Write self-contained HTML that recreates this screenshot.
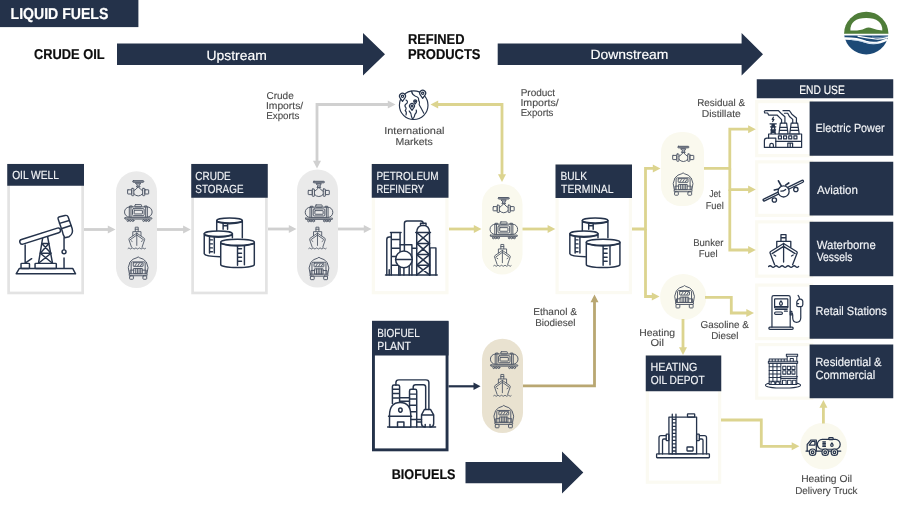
<!DOCTYPE html>
<html lang="en">
<head>
<meta charset="utf-8">
<title>Liquid Fuels</title>
<style>
html,body{margin:0;padding:0;background:#fff;}
body{width:900px;height:506px;overflow:hidden;}
svg{display:block;filter:blur(0.45px);}
text{font-family:"Liberation Sans",sans-serif;text-rendering:geometricPrecision;}
.ic{fill:none;stroke:#25334b;stroke-width:1.35;stroke-linecap:round;stroke-linejoin:round;}
.is{fill:none;stroke:#525a69;stroke-width:1;stroke-linecap:round;stroke-linejoin:round;}
</style>
</head>
<body>
<svg width="900" height="506" viewBox="0 0 900 506">
<rect width="900" height="506" fill="#ffffff"/>
<rect x="0" y="0" width="138.4" height="27.1" fill="#24324a"/>
<text x="10.59" y="18.5" font-size="15.8" fill="#fff" stroke="#fff" stroke-width="0.2" font-weight="700" textLength="97.77" lengthAdjust="spacingAndGlyphs">LIQUID FUELS</text>
<text x="33.95" y="59.1" font-size="14.3" fill="#0d0d0d" stroke="#0d0d0d" stroke-width="0.2" font-weight="700" textLength="70.61" lengthAdjust="spacingAndGlyphs">CRUDE OIL</text>
<polygon points="117,43.6 363,43.6 363,33.1 385,54.3 363,75.5 363,65.0 117,65.0" fill="#24324a"/>
<text x="206.47" y="59.9" font-size="13.5" fill="#fff" stroke="#fff" stroke-width="0.16" textLength="60.3" lengthAdjust="spacingAndGlyphs">Upstream</text>
<text x="407.89" y="44.0" font-size="14.3" fill="#0d0d0d" stroke="#0d0d0d" stroke-width="0.2" font-weight="700" textLength="56.63" lengthAdjust="spacingAndGlyphs">REFINED</text>
<text x="407.88" y="59.1" font-size="14.3" fill="#0d0d0d" stroke="#0d0d0d" stroke-width="0.2" font-weight="700" textLength="72.62" lengthAdjust="spacingAndGlyphs">PRODUCTS</text>
<polygon points="497.7,43.6 741.6,43.6 741.6,33.1 763,54.3 741.6,75.5 741.6,65.0 497.7,65.0" fill="#24324a"/>
<text x="590.48" y="59.2" font-size="13.5" fill="#fff" stroke="#fff" stroke-width="0.16" textLength="77.95" lengthAdjust="spacingAndGlyphs">Downstream</text>
<text x="391.73" y="479.3" font-size="14" fill="#0d0d0d" stroke="#0d0d0d" stroke-width="0.2" font-weight="700" textLength="63.78" lengthAdjust="spacingAndGlyphs">BIOFUELS</text>
<polygon points="465.5,462.0 562,462.0 562,451.6 583.3,472.6 562,493.6 562,483.2 465.5,483.2" fill="#24324a"/>
<rect x="8.6" y="165" width="74.05" height="127.95" fill="#fff" stroke="#e3e3e3" stroke-width="2.7"/>
<rect x="7.25" y="164" width="76.75" height="21.75" fill="#24324a"/>
<text x="12.14" y="179.3" font-size="11.8" fill="#f2f4f7" stroke="#f2f4f7" stroke-width="0.16" textLength="46.81" lengthAdjust="spacingAndGlyphs">OIL WELL</text>
<rect x="192.6" y="165" width="73.8" height="127.95" fill="#fff" stroke="#e3e3e3" stroke-width="2.7"/>
<rect x="191.25" y="164" width="76.5" height="33.75" fill="#24324a"/>
<text x="195.29" y="180.2" font-size="11.8" fill="#f2f4f7" stroke="#f2f4f7" stroke-width="0.16" textLength="35.46" lengthAdjust="spacingAndGlyphs">CRUDE</text>
<text x="195.29" y="192.9" font-size="11.8" fill="#f2f4f7" stroke="#f2f4f7" stroke-width="0.16" textLength="48.26" lengthAdjust="spacingAndGlyphs">STORAGE</text>
<rect x="373.35" y="165" width="73.55" height="127.7" fill="#fff" stroke="#fbfaf2" stroke-width="3.2"/>
<rect x="371.75" y="164" width="76.75" height="33.75" fill="#24324a"/>
<text x="376.38" y="180.2" font-size="11.8" fill="#f2f4f7" stroke="#f2f4f7" stroke-width="0.16" textLength="62.23" lengthAdjust="spacingAndGlyphs">PETROLEUM</text>
<text x="376.39" y="192.9" font-size="11.8" fill="#f2f4f7" stroke="#f2f4f7" stroke-width="0.16" textLength="47.76" lengthAdjust="spacingAndGlyphs">REFINERY</text>
<rect x="557.1" y="165.5" width="73.3" height="127.1" fill="#fff" stroke="#fbfaf2" stroke-width="3.2"/>
<rect x="555.5" y="164.5" width="76.5" height="33.5" fill="#24324a"/>
<text x="560.53" y="180.3" font-size="11.8" fill="#f2f4f7" stroke="#f2f4f7" stroke-width="0.16" textLength="26.47" lengthAdjust="spacingAndGlyphs">BULK</text>
<text x="561.05" y="193.0" font-size="11.8" fill="#f2f4f7" stroke="#f2f4f7" stroke-width="0.16" textLength="52.5" lengthAdjust="spacingAndGlyphs">TERMINAL</text>
<rect x="373.45" y="322.25" width="73.6" height="127.6" fill="#fff" stroke="#24324a" stroke-width="2.9"/>
<rect x="372" y="321.25" width="76.5" height="34.25" fill="#24324a"/>
<text x="377.23" y="337.45" font-size="11.8" fill="#f2f4f7" stroke="#f2f4f7" stroke-width="0.16" textLength="42.52" lengthAdjust="spacingAndGlyphs">BIOFUEL</text>
<text x="377.23" y="350.15" font-size="11.8" fill="#f2f4f7" stroke="#f2f4f7" stroke-width="0.16" textLength="33.72" lengthAdjust="spacingAndGlyphs">PLANT</text>
<rect x="647.35" y="356.5" width="72.3" height="125.7" fill="#fff" stroke="#fbfaf2" stroke-width="3.2"/>
<rect x="645.75" y="355.5" width="75.5" height="35.75" fill="#24324a"/>
<text x="650.53" y="371.1" font-size="11.8" fill="#f2f4f7" stroke="#f2f4f7" stroke-width="0.16" textLength="46.79" lengthAdjust="spacingAndGlyphs">HEATING</text>
<text x="650.8" y="383.8" font-size="11.8" fill="#f2f4f7" stroke="#f2f4f7" stroke-width="0.16" textLength="53.81" lengthAdjust="spacingAndGlyphs">OIL DEPOT</text>
<rect x="116" y="171.25" width="41" height="116.75" fill="#eaeaea" rx="20.5"/>
<rect x="297" y="169.5" width="41" height="118" fill="#eaeaea" rx="20.5"/>
<rect x="482" y="184" width="40.5" height="90.5" fill="#faf9ee" rx="20.25"/>
<rect x="661" y="132" width="43" height="74" fill="#faf9ee" rx="20"/>
<rect x="482" y="338.75" width="41" height="94.25" fill="#e9e2d0" rx="20.5"/>
<circle cx="683.2" cy="297" r="23.1" fill="#faf9ee"/>
<circle cx="823.6" cy="446.2" r="23.4" fill="#faf9ee"/>
<rect x="756.75" y="79.25" width="136.5" height="19" fill="#24324a"/>
<text x="799.23" y="93.8" font-size="12.2" fill="#fff" stroke="#fff" stroke-width="0.16" textLength="45.52" lengthAdjust="spacingAndGlyphs">END USE</text>
<rect x="756.7" y="101.6" width="55" height="54.05" fill="#fff" stroke="#fbfaf2" stroke-width="3.2"/>
<rect x="809.6" y="101.5" width="83.65" height="54.25" fill="#24324a"/>
<text x="815.59" y="132.2" font-size="12.0" fill="#f2f4f7" stroke="#f2f4f7" stroke-width="0.16" textLength="68.91" lengthAdjust="spacingAndGlyphs">Electric Power</text>
<rect x="756.7" y="161.85" width="55" height="53.55" fill="#fff" stroke="#fbfaf2" stroke-width="3.2"/>
<rect x="809.6" y="161.75" width="83.65" height="53.75" fill="#24324a"/>
<text x="817.0" y="193.5" font-size="12.0" fill="#f2f4f7" stroke="#f2f4f7" stroke-width="0.16" textLength="40.81" lengthAdjust="spacingAndGlyphs">Aviation</text>
<rect x="756.7" y="221.85" width="55" height="54.3" fill="#fff" stroke="#fbfaf2" stroke-width="3.2"/>
<rect x="809.6" y="221.75" width="83.65" height="54.5" fill="#24324a"/>
<text x="816.8" y="248.6" font-size="12.0" fill="#f2f4f7" stroke="#f2f4f7" stroke-width="0.16" textLength="58.9" lengthAdjust="spacingAndGlyphs">Waterborne</text>
<text x="816.8" y="261.2" font-size="12.0" fill="#f2f4f7" stroke="#f2f4f7" stroke-width="0.16" textLength="35.6" lengthAdjust="spacingAndGlyphs">Vessels</text>
<rect x="756.7" y="285.1" width="55" height="53.55" fill="#fff" stroke="#fbfaf2" stroke-width="3.2"/>
<rect x="809.6" y="285" width="83.65" height="53.75" fill="#24324a"/>
<text x="815.58" y="314.5" font-size="12.0" fill="#f2f4f7" stroke="#f2f4f7" stroke-width="0.16" textLength="71.12" lengthAdjust="spacingAndGlyphs">Retail Stations</text>
<rect x="756.7" y="344.6" width="55" height="53.55" fill="#fff" stroke="#fbfaf2" stroke-width="3.2"/>
<rect x="809.6" y="344.5" width="83.65" height="53.75" fill="#24324a"/>
<text x="815.24" y="366.0" font-size="12.0" fill="#f2f4f7" stroke="#f2f4f7" stroke-width="0.16" textLength="66.41" lengthAdjust="spacingAndGlyphs">Residential &amp;</text>
<text x="815.49" y="379.2" font-size="12.0" fill="#f2f4f7" stroke="#f2f4f7" stroke-width="0.16" textLength="59.77" lengthAdjust="spacingAndGlyphs">Commercial</text>
<path d="M84 229.5 L108.95 229.5" fill="none" stroke="#d0d0d0" stroke-width="2.8" stroke-linejoin="miter"/>
<polygon points="115.5,229.5 107.8,233.5 107.8,225.5" fill="#d0d0d0"/>
<path d="M157 229.5 L184.26 229.5" fill="none" stroke="#d0d0d0" stroke-width="2.8" stroke-linejoin="miter"/>
<polygon points="190.8,229.5 183.1,233.5 183.1,225.5" fill="#d0d0d0"/>
<path d="M268 229 L289.95 229.0" fill="none" stroke="#d0d0d0" stroke-width="2.8" stroke-linejoin="miter"/>
<polygon points="296.5,229 288.8,233.0 288.8,225.0" fill="#d0d0d0"/>
<path d="M338 229 L364.95 229.0" fill="none" stroke="#d0d0d0" stroke-width="2.8" stroke-linejoin="miter"/>
<polygon points="371.5,229 363.8,233.0 363.8,225.0" fill="#d0d0d0"/>
<path d="M388.95 104.5 L317 104.5 L317.0 161.86" fill="none" stroke="#d0d0d0" stroke-width="2.8" stroke-linejoin="miter"/>
<polygon points="317,168.4 313.0,160.7 321.0,160.7" fill="#d0d0d0"/>
<polygon points="395.5,104.5 387.8,108.5 387.8,100.5" fill="#d0d0d0"/>
<path d="M449 229 L474.95 229.0" fill="none" stroke="#dcd48f" stroke-width="2.8" stroke-linejoin="miter"/>
<polygon points="481.5,229 473.8,233.0 473.8,225.0" fill="#dcd48f"/>
<path d="M522.5 229 L548.75 229.0" fill="none" stroke="#dcd48f" stroke-width="2.8" stroke-linejoin="miter"/>
<polygon points="555.3,229 547.6,233.0 547.6,225.0" fill="#dcd48f"/>
<path d="M437.05 104.5 L502 104.5 L502.0 175.46" fill="none" stroke="#dcd48f" stroke-width="2.8" stroke-linejoin="miter"/>
<polygon points="502,182 498.0,174.3 506.0,174.3" fill="#dcd48f"/>
<polygon points="430.5,104.5 438.2,100.5 438.2,108.5" fill="#dcd48f"/>
<path d="M632 229 L645.5 229 L645.5 168.4 L653.95 168.4" fill="none" stroke="#dcd48f" stroke-width="2.8" stroke-linejoin="miter"/>
<polygon points="660.5,168.4 652.8,172.4 652.8,164.4" fill="#dcd48f"/>
<path d="M645.5 229 L645.5 296.5 L652.95 296.5" fill="none" stroke="#dcd48f" stroke-width="2.8" stroke-linejoin="miter"/>
<polygon points="659.5,296.5 651.8,300.5 651.8,292.5" fill="#dcd48f"/>
<path d="M704 168.4 L729.8 168.4 L729.8 129.2 L749.25 129.2" fill="none" stroke="#dcd48f" stroke-width="2.8" stroke-linejoin="miter"/>
<polygon points="755.8,129.2 748.1,133.2 748.1,125.2" fill="#dcd48f"/>
<path d="M729.8 168.4 L729.8 189.6 L749.25 189.6" fill="none" stroke="#dcd48f" stroke-width="2.8" stroke-linejoin="miter"/>
<polygon points="755.8,189.6 748.1,193.6 748.1,185.6" fill="#dcd48f"/>
<path d="M729.8 189.5 L729.8 250 L749.25 250.0" fill="none" stroke="#dcd48f" stroke-width="2.8" stroke-linejoin="miter"/>
<polygon points="755.8,250 748.1,254.0 748.1,246.0" fill="#dcd48f"/>
<path d="M705 297.3 L731.3 297.3 L731.3 313 L747.45 313.0" fill="none" stroke="#dcd48f" stroke-width="2.8" stroke-linejoin="miter"/>
<polygon points="754,313 746.3,317.0 746.3,309.0" fill="#dcd48f"/>
<path d="M683 319 L683.0 348.45" fill="none" stroke="#dcd48f" stroke-width="2.8" stroke-linejoin="miter"/>
<polygon points="683,355 679.0,347.3 687.0,347.3" fill="#dcd48f"/>
<path d="M721 420 L761.3 420 L761.3 446.3 L792.85 446.3" fill="none" stroke="#dcd48f" stroke-width="2.8" stroke-linejoin="miter"/>
<polygon points="799.4,446.3 791.7,450.3 791.7,442.3" fill="#dcd48f"/>
<path d="M823.4 423.5 L823.4 406.55" fill="none" stroke="#dcd48f" stroke-width="2.8" stroke-linejoin="miter"/>
<polygon points="823.4,400 827.4,407.7 819.4,407.7" fill="#dcd48f"/>
<path d="M523 385.8 L594.5 385.8 L594.5 301.05" fill="none" stroke="#b9a772" stroke-width="2.8" stroke-linejoin="miter"/>
<polygon points="594.5,294.5 598.5,302.2 590.5,302.2" fill="#b9a772"/>
<path d="M448.5 386.3 L474.55 386.3" fill="none" stroke="#24324a" stroke-width="2.2" stroke-linejoin="miter"/>
<polygon points="480.5,386.3 473.5,390.05 473.5,382.55" fill="#24324a"/>
<text x="266.44" y="99.3" font-size="10.0" fill="#4a4a4a" stroke="#4a4a4a" stroke-width="0.12" textLength="27.27" lengthAdjust="spacingAndGlyphs">Crude</text>
<text x="265.93" y="109.2" font-size="10.0" fill="#4a4a4a" stroke="#4a4a4a" stroke-width="0.12" textLength="37.27" lengthAdjust="spacingAndGlyphs">Imports/</text>
<text x="266.18" y="119.1" font-size="10.0" fill="#4a4a4a" stroke="#4a4a4a" stroke-width="0.12" textLength="33.28" lengthAdjust="spacingAndGlyphs">Exports</text>
<text x="384.22" y="134.0" font-size="10.0" fill="#4a4a4a" stroke="#4a4a4a" stroke-width="0.12" textLength="60.24" lengthAdjust="spacingAndGlyphs">International</text>
<text x="395.43" y="145.1" font-size="10.0" fill="#4a4a4a" stroke="#4a4a4a" stroke-width="0.12" textLength="37.33" lengthAdjust="spacingAndGlyphs">Markets</text>
<text x="520.69" y="95.9" font-size="10.0" fill="#4a4a4a" stroke="#4a4a4a" stroke-width="0.12" textLength="34.46" lengthAdjust="spacingAndGlyphs">Product</text>
<text x="520.43" y="106.3" font-size="10.0" fill="#4a4a4a" stroke="#4a4a4a" stroke-width="0.12" textLength="38.27" lengthAdjust="spacingAndGlyphs">Imports/</text>
<text x="520.68" y="116.4" font-size="10.0" fill="#4a4a4a" stroke="#4a4a4a" stroke-width="0.12" textLength="32.73" lengthAdjust="spacingAndGlyphs">Exports</text>
<text x="697.24" y="105.9" font-size="10.0" fill="#4a4a4a" stroke="#4a4a4a" stroke-width="0.12" textLength="47.76" lengthAdjust="spacingAndGlyphs">Residual &amp;</text>
<text x="701.73" y="116.9" font-size="10.0" fill="#4a4a4a" stroke="#4a4a4a" stroke-width="0.12" textLength="39.03" lengthAdjust="spacingAndGlyphs">Distillate</text>
<text x="709.2" y="197.3" font-size="10.0" fill="#4a4a4a" stroke="#4a4a4a" stroke-width="0.12" textLength="11.51" lengthAdjust="spacingAndGlyphs">Jet</text>
<text x="705.65" y="208.5" font-size="10.0" fill="#4a4a4a" stroke="#4a4a4a" stroke-width="0.12" textLength="18.08" lengthAdjust="spacingAndGlyphs">Fuel</text>
<text x="693.18" y="246.0" font-size="10.0" fill="#4a4a4a" stroke="#4a4a4a" stroke-width="0.12" textLength="30.27" lengthAdjust="spacingAndGlyphs">Bunker</text>
<text x="698.69" y="257.3" font-size="10.0" fill="#4a4a4a" stroke="#4a4a4a" stroke-width="0.12" textLength="18.85" lengthAdjust="spacingAndGlyphs">Fuel</text>
<text x="533.19" y="314.7" font-size="10.0" fill="#4a4a4a" stroke="#4a4a4a" stroke-width="0.12" textLength="43.81" lengthAdjust="spacingAndGlyphs">Ethanol &amp;</text>
<text x="535.18" y="326.0" font-size="10.0" fill="#4a4a4a" stroke="#4a4a4a" stroke-width="0.12" textLength="40.33" lengthAdjust="spacingAndGlyphs">Biodiesel</text>
<text x="639.22" y="335.5" font-size="10.0" fill="#4a4a4a" stroke="#4a4a4a" stroke-width="0.12" textLength="35.8" lengthAdjust="spacingAndGlyphs">Heating</text>
<text x="650.41" y="346.0" font-size="10.0" fill="#4a4a4a" stroke="#4a4a4a" stroke-width="0.12" textLength="13.59" lengthAdjust="spacingAndGlyphs">Oil</text>
<text x="700.45" y="327.7" font-size="10.0" fill="#4a4a4a" stroke="#4a4a4a" stroke-width="0.12" textLength="48.51" lengthAdjust="spacingAndGlyphs">Gasoline &amp;</text>
<text x="711.21" y="339.0" font-size="10.0" fill="#4a4a4a" stroke="#4a4a4a" stroke-width="0.12" textLength="27.31" lengthAdjust="spacingAndGlyphs">Diesel</text>
<text x="801.18" y="482.2" font-size="10.0" fill="#4a4a4a" stroke="#4a4a4a" stroke-width="0.12" textLength="50.78" lengthAdjust="spacingAndGlyphs">Heating Oil</text>
<text x="795.19" y="493.5" font-size="10.0" fill="#4a4a4a" stroke="#4a4a4a" stroke-width="0.12" textLength="62.31" lengthAdjust="spacingAndGlyphs">Delivery Truck</text>
<g class="ic" transform="translate(5 200) scale(0.18)" style="stroke-width:8.15">
<path d="M62 410 L80 380 L376 380 L392 410 Z"/>
<rect x="167" y="352" width="118" height="28" rx="4"/>
<path d="M211 200 L186 352 M236 200 L264 352 M207 184 h32 v16 h-32 Z"/>
<path d="M204 242 h40 M196 296 h60 M204 242 L256 296 M244 242 L196 296 M196 296 L262 350 M256 296 L188 350"/>
<rect x="82" y="219" width="236" height="27" rx="13.5" transform="rotate(-17.6 95 232)" fill="#fff"/>
<path d="M296 108 Q291 96 304 93 L334 86 Q347 83 351 95 L373 158 Q381 186 356 204 L332 210 Q322 196 318 172 Z" fill="#fff"/>
<path d="M303 130 L357 114 M312 160 L367 142"/>
<path d="M328 210 V276 M328 322 V378"/>
<circle cx="328" cy="288" r="11" fill="#fff"/>
<path d="M112 250 V352 M118 346 L148 326"/>
<rect x="89" y="352" width="47" height="28" rx="4"/>
</g>
<g class="ic" transform="translate(190 205) scale(0.16 0.16)" style="stroke-width:9.17">
<path d="M167 97 V165 M327 97 V205"/>
<ellipse cx="247" cy="97" rx="80" ry="16"/>
<path d="M170 106 Q247 128 324 106"/>
<path d="M207 114 V152 M235 118 V152 M207 130 H235"/>
<path d="M89 180 V305 Q95 322 186 323 M265 180 V205"/>
<ellipse cx="177" cy="180" rx="88" ry="17" fill="#fff"/>
<path d="M92 190 Q177 214 262 190"/>
<path d="M122 198 V300 M152 200 V300 M122 218 H140 M122 243 H140 M122 268 H140 M122 292 H140"/>
<path d="M192 233 V372 A105 19 0 0 0 402 372 V233 Z" fill="#fff"/>
<ellipse cx="297" cy="233" rx="105" ry="19" fill="#fff"/>
<path d="M195 243 Q297 270 399 243"/>
<path d="M297 256 V376 M340 254 V374 M297 274 H322 M297 301 H322 M297 326 H322 M297 352 H322"/>
</g>
<g class="ic" transform="translate(555.6 205) scale(0.16 0.16)" style="stroke-width:9.17">
<path d="M167 97 V165 M327 97 V205"/>
<ellipse cx="247" cy="97" rx="80" ry="16"/>
<path d="M170 106 Q247 128 324 106"/>
<path d="M207 114 V152 M235 118 V152 M207 130 H235"/>
<path d="M89 180 V305 Q95 322 186 323 M265 180 V205"/>
<ellipse cx="177" cy="180" rx="88" ry="17" fill="#fff"/>
<path d="M92 190 Q177 214 262 190"/>
<path d="M122 198 V300 M152 200 V300 M122 218 H140 M122 243 H140 M122 268 H140 M122 292 H140"/>
<path d="M192 233 V372 A105 19 0 0 0 402 372 V233 Z" fill="#fff"/>
<ellipse cx="297" cy="233" rx="105" ry="19" fill="#fff"/>
<path d="M195 243 Q297 270 399 243"/>
<path d="M297 256 V376 M340 254 V374 M297 274 H322 M297 301 H322 M297 326 H322 M297 352 H322"/>
</g>
<g class="ic" transform="translate(370 205) scale(0.16)" style="stroke-width:9.17">
<path d="M97 437 H420"/>
<path d="M105 437 V215 Q105 200 120 200 H133 M120 437 V405"/>
<path d="M133 172 V437 M188 172 V437 M128 172 H194 M133 215 H188 M133 270 H188 M133 322 H188 M133 376 H188"/>
<path d="M215 285 V116 Q215 100 231 100 H318 Q332 100 332 114"/>
<path d="M188 248 H262 V437 M262 270 H292"/>
<path d="M292 172 V437 M372 172 V437 M286 172 H378 M292 240 H372 M292 310 H372 M292 376 H372"/>
<path d="M292 172 L372 240 M372 172 L292 240 M292 240 L372 310 M372 240 L292 310 M292 310 L372 376 M372 310 L292 376 M292 376 L372 437 M372 376 L292 437"/>
<path d="M292 172 Q292 128 332 126 Q372 128 372 172 M316 126 V114 H350 V126"/>
<path d="M375 268 H412 V437 M375 268 V437"/>
<path d="M180 382 V437 M212 392 V437 M245 382 V437"/>
<circle cx="212" cy="340" r="52" fill="#fff"/>
<path d="M160 340 H264"/>
</g>
<g class="ic" transform="translate(370 365) scale(0.16)" style="stroke-width:9.17">
<path d="M110 388 H410"/>
<path d="M162 127 V110 Q162 93 180 93 H350 Q368 93 368 110 V278"/>
<path d="M270 152 V138 Q270 123 285 123 H334 Q348 123 348 138 V278"/>
<path d="M140 240 V135 Q140 125 150 125 H175 Q185 125 185 135 V240 M140 152 H185 M140 178 H185 M140 206 H185"/>
<path d="M185 205 H247 M185 226 H247"/>
<path d="M247 388 V162 Q247 152 257 152 H282 Q292 152 292 162 V388 M247 182 H292 M247 212 H292 M247 252 H292 M247 292 H292 M247 340 H292"/>
<path d="M292 340 H322 M292 356 H322"/>
<path d="M122 388 V315 Q122 235 188 235 Q255 235 255 315 V388 Z" fill="#fff"/>
<path d="M116 320 H260 M172 388 V356 H212 V388"/>
<ellipse cx="190" cy="282" rx="11" ry="13"/>
<path d="M340 278 H378 L398 312 V366 Q398 386 378 388 M340 278 L322 312 V366 Q322 386 342 388 M322 312 H398 M345 388 V372 M375 388 V372"/>
</g>
<g class="ic" transform="translate(756 220) scale(0.12 0.12)" style="stroke-width:10.96">
<path d="M208 176 V122 H250 V176 M208 148 H250"/>
<path d="M173 228 V178 H290 V228"/>
<path d="M230 196 L122 262 Q114 268 118 278 L155 372 M230 196 L338 262 Q346 268 342 278 L305 372" />
<path d="M230 220 L134 280 M230 220 L326 280 M230 196 V350 M150 292 l14 8 M310 292 l-14 8"/>
<path d="M105 388 q12.5 -13 25 0 t25 0 t25 0 t25 0 t25 0 t25 0 t25 0 t25 0 t25 0 t25 0"/>
</g>
<g class="is" transform="translate(106.39 173.14) scale(0.07 0.07)" style="stroke-width:14.12">
<rect x="376" y="108" width="158" height="22" rx="9" fill="#9a9ea7"/>
<path d="M420 142 H490 L470 176 L482 196 H428 L440 176 Z" fill="#a9adb5"/>
<rect x="303" y="238" width="58" height="60" rx="5"/>
<rect x="549" y="238" width="55" height="60" rx="5"/>
<rect x="362" y="218" width="30" height="104" rx="6"/>
<rect x="518" y="218" width="30" height="104" rx="6"/>
<path d="M392 252 Q424 236 455 194 Q486 236 518 252 M392 294 Q420 326 455 326 Q490 326 518 294"/>
</g>
<g class="is" transform="translate(104.37 198.13) scale(0.07 0.07)" style="stroke-width:14.08">
<rect x="436" y="93" width="94" height="32" rx="8"/>
<path d="M362 125 V112 H398 V125 M572 125 V112 H608 V125"/>
<rect x="288" y="125" width="394" height="146" rx="72"/>
<path d="M356 130 V268 M380 126 V270 M590 126 V270 M614 130 V268"/>
<rect x="402" y="150" width="166" height="100" rx="14"/>
<rect x="426" y="174" width="118" height="52" rx="5"/>
<rect x="292" y="281" width="386" height="18" rx="4"/>
<circle cx="336" cy="320" r="14"/><circle cx="372" cy="320" r="14"/><circle cx="408" cy="320" r="14"/>
<circle cx="562" cy="320" r="14"/><circle cx="598" cy="320" r="14"/><circle cx="634" cy="320" r="14"/>
</g>
<g class="is" transform="translate(120.69 217.42) scale(0.07 0.08)" style="stroke-width:12.1">
<path d="M208 176 V122 H250 V176 M208 148 H250"/>
<path d="M173 228 V178 H290 V228"/>
<path d="M230 196 L122 262 Q114 268 118 278 L155 372 M230 196 L338 262 Q346 268 342 278 L305 372" />
<path d="M230 220 L134 280 M230 220 L326 280 M230 196 V350 M150 292 l14 8 M310 292 l-14 8"/>
<path d="M105 388 q12.5 -13 25 0 t25 0 t25 0 t25 0 t25 0 t25 0 t25 0 t25 0 t25 0 t25 0"/>
</g>
<g class="is" transform="translate(107.01 249.99) scale(0.07 0.07)" style="stroke-width:14.14">
<path d="M318 337 Q284 245 328 172 Q366 122 428 110 Q445 86 462 110 Q524 122 562 172 Q606 245 572 337"/>
<path d="M345 340 V186 Q345 170 361 170 H529 Q545 170 545 186 V340"/>
<rect x="375" y="182" width="140" height="52" rx="5"/>
<path d="M400 226 L420 196 M440 226 L460 196 M478 226 L498 196"/>
<rect x="386" y="264" width="118" height="74"/>
<path d="M410 264 V338 M434 264 V338 M458 264 V338 M482 264 V338"/>
<path d="M330 338 V288 H386 M560 338 V288 H504"/>
<rect x="318" y="340" width="254" height="28" rx="5"/>
<rect x="323" y="368" width="54" height="50" rx="10"/>
<rect x="513" y="368" width="54" height="50" rx="10"/>
</g>
<g class="is" transform="translate(286.99 173.74) scale(0.07 0.07)" style="stroke-width:14.12">
<rect x="376" y="108" width="158" height="22" rx="9" fill="#9a9ea7"/>
<path d="M420 142 H490 L470 176 L482 196 H428 L440 176 Z" fill="#a9adb5"/>
<rect x="303" y="238" width="58" height="60" rx="5"/>
<rect x="549" y="238" width="55" height="60" rx="5"/>
<rect x="362" y="218" width="30" height="104" rx="6"/>
<rect x="518" y="218" width="30" height="104" rx="6"/>
<path d="M392 252 Q424 236 455 194 Q486 236 518 252 M392 294 Q420 326 455 326 Q490 326 518 294"/>
</g>
<g class="is" transform="translate(285.07 198.43) scale(0.07 0.07)" style="stroke-width:14.08">
<rect x="436" y="93" width="94" height="32" rx="8"/>
<path d="M362 125 V112 H398 V125 M572 125 V112 H608 V125"/>
<rect x="288" y="125" width="394" height="146" rx="72"/>
<path d="M356 130 V268 M380 126 V270 M590 126 V270 M614 130 V268"/>
<rect x="402" y="150" width="166" height="100" rx="14"/>
<rect x="426" y="174" width="118" height="52" rx="5"/>
<rect x="292" y="281" width="386" height="18" rx="4"/>
<circle cx="336" cy="320" r="14"/><circle cx="372" cy="320" r="14"/><circle cx="408" cy="320" r="14"/>
<circle cx="562" cy="320" r="14"/><circle cx="598" cy="320" r="14"/><circle cx="634" cy="320" r="14"/>
</g>
<g class="is" transform="translate(301.39 217.42) scale(0.07 0.08)" style="stroke-width:12.1">
<path d="M208 176 V122 H250 V176 M208 148 H250"/>
<path d="M173 228 V178 H290 V228"/>
<path d="M230 196 L122 262 Q114 268 118 278 L155 372 M230 196 L338 262 Q346 268 342 278 L305 372" />
<path d="M230 220 L134 280 M230 220 L326 280 M230 196 V350 M150 292 l14 8 M310 292 l-14 8"/>
<path d="M105 388 q12.5 -13 25 0 t25 0 t25 0 t25 0 t25 0 t25 0 t25 0 t25 0 t25 0 t25 0"/>
</g>
<g class="is" transform="translate(287.81 250.39) scale(0.07 0.07)" style="stroke-width:14.14">
<path d="M318 337 Q284 245 328 172 Q366 122 428 110 Q445 86 462 110 Q524 122 562 172 Q606 245 572 337"/>
<path d="M345 340 V186 Q345 170 361 170 H529 Q545 170 545 186 V340"/>
<rect x="375" y="182" width="140" height="52" rx="5"/>
<path d="M400 226 L420 196 M440 226 L460 196 M478 226 L498 196"/>
<rect x="386" y="264" width="118" height="74"/>
<path d="M410 264 V338 M434 264 V338 M458 264 V338 M482 264 V338"/>
<path d="M330 338 V288 H386 M560 338 V288 H504"/>
<rect x="318" y="340" width="254" height="28" rx="5"/>
<rect x="323" y="368" width="54" height="50" rx="10"/>
<rect x="513" y="368" width="54" height="50" rx="10"/>
</g>
<g class="is" transform="translate(471.89 189.94) scale(0.07 0.07)" style="stroke-width:14.12">
<rect x="376" y="108" width="158" height="22" rx="9" fill="#9a9ea7"/>
<path d="M420 142 H490 L470 176 L482 196 H428 L440 176 Z" fill="#a9adb5"/>
<rect x="303" y="238" width="58" height="60" rx="5"/>
<rect x="549" y="238" width="55" height="60" rx="5"/>
<rect x="362" y="218" width="30" height="104" rx="6"/>
<rect x="518" y="218" width="30" height="104" rx="6"/>
<path d="M392 252 Q424 236 455 194 Q486 236 518 252 M392 294 Q420 326 455 326 Q490 326 518 294"/>
</g>
<g class="is" transform="translate(469.87 215.43) scale(0.07 0.07)" style="stroke-width:14.08">
<rect x="436" y="93" width="94" height="32" rx="8"/>
<path d="M362 125 V112 H398 V125 M572 125 V112 H608 V125"/>
<rect x="288" y="125" width="394" height="146" rx="72"/>
<path d="M356 130 V268 M380 126 V270 M590 126 V270 M614 130 V268"/>
<rect x="402" y="150" width="166" height="100" rx="14"/>
<rect x="426" y="174" width="118" height="52" rx="5"/>
<rect x="292" y="281" width="386" height="18" rx="4"/>
<circle cx="336" cy="320" r="14"/><circle cx="372" cy="320" r="14"/><circle cx="408" cy="320" r="14"/>
<circle cx="562" cy="320" r="14"/><circle cx="598" cy="320" r="14"/><circle cx="634" cy="320" r="14"/>
</g>
<g class="is" transform="translate(486.29 234.72) scale(0.07 0.08)" style="stroke-width:12.1">
<path d="M208 176 V122 H250 V176 M208 148 H250"/>
<path d="M173 228 V178 H290 V228"/>
<path d="M230 196 L122 262 Q114 268 118 278 L155 372 M230 196 L338 262 Q346 268 342 278 L305 372" />
<path d="M230 220 L134 280 M230 220 L326 280 M230 196 V350 M150 292 l14 8 M310 292 l-14 8"/>
<path d="M105 388 q12.5 -13 25 0 t25 0 t25 0 t25 0 t25 0 t25 0 t25 0 t25 0 t25 0 t25 0"/>
</g>
<g class="is" transform="translate(651.49 138.74) scale(0.07 0.07)" style="stroke-width:14.12">
<rect x="376" y="108" width="158" height="22" rx="9" fill="#9a9ea7"/>
<path d="M420 142 H490 L470 176 L482 196 H428 L440 176 Z" fill="#a9adb5"/>
<rect x="303" y="238" width="58" height="60" rx="5"/>
<rect x="549" y="238" width="55" height="60" rx="5"/>
<rect x="362" y="218" width="30" height="104" rx="6"/>
<rect x="518" y="218" width="30" height="104" rx="6"/>
<path d="M392 252 Q424 236 455 194 Q486 236 518 252 M392 294 Q420 326 455 326 Q490 326 518 294"/>
</g>
<g class="is" transform="translate(651.94 165.96) scale(0.07 0.07)" style="stroke-width:13.83">
<path d="M318 337 Q284 245 328 172 Q366 122 428 110 Q445 86 462 110 Q524 122 562 172 Q606 245 572 337"/>
<path d="M345 340 V186 Q345 170 361 170 H529 Q545 170 545 186 V340"/>
<rect x="375" y="182" width="140" height="52" rx="5"/>
<path d="M400 226 L420 196 M440 226 L460 196 M478 226 L498 196"/>
<rect x="386" y="264" width="118" height="74"/>
<path d="M410 264 V338 M434 264 V338 M458 264 V338 M482 264 V338"/>
<path d="M330 338 V288 H386 M560 338 V288 H504"/>
<rect x="318" y="340" width="254" height="28" rx="5"/>
<rect x="323" y="368" width="54" height="50" rx="10"/>
<rect x="513" y="368" width="54" height="50" rx="10"/>
</g>
<g class="is" transform="translate(470.27 345.23) scale(0.07 0.07)" style="stroke-width:14.08">
<rect x="436" y="93" width="94" height="32" rx="8"/>
<path d="M362 125 V112 H398 V125 M572 125 V112 H608 V125"/>
<rect x="288" y="125" width="394" height="146" rx="72"/>
<path d="M356 130 V268 M380 126 V270 M590 126 V270 M614 130 V268"/>
<rect x="402" y="150" width="166" height="100" rx="14"/>
<rect x="426" y="174" width="118" height="52" rx="5"/>
<rect x="292" y="281" width="386" height="18" rx="4"/>
<circle cx="336" cy="320" r="14"/><circle cx="372" cy="320" r="14"/><circle cx="408" cy="320" r="14"/>
<circle cx="562" cy="320" r="14"/><circle cx="598" cy="320" r="14"/><circle cx="634" cy="320" r="14"/>
</g>
<g class="is" transform="translate(486.29 364.72) scale(0.07 0.08)" style="stroke-width:12.1">
<path d="M208 176 V122 H250 V176 M208 148 H250"/>
<path d="M173 228 V178 H290 V228"/>
<path d="M230 196 L122 262 Q114 268 118 278 L155 372 M230 196 L338 262 Q346 268 342 278 L305 372" />
<path d="M230 220 L134 280 M230 220 L326 280 M230 196 V350 M150 292 l14 8 M310 292 l-14 8"/>
<path d="M105 388 q12.5 -13 25 0 t25 0 t25 0 t25 0 t25 0 t25 0 t25 0 t25 0 t25 0 t25 0"/>
</g>
<g class="is" transform="translate(472.64 398.54) scale(0.07 0.07)" style="stroke-width:14.02">
<path d="M318 337 Q284 245 328 172 Q366 122 428 110 Q445 86 462 110 Q524 122 562 172 Q606 245 572 337"/>
<path d="M345 340 V186 Q345 170 361 170 H529 Q545 170 545 186 V340"/>
<rect x="375" y="182" width="140" height="52" rx="5"/>
<path d="M400 226 L420 196 M440 226 L460 196 M478 226 L498 196"/>
<rect x="386" y="264" width="118" height="74"/>
<path d="M410 264 V338 M434 264 V338 M458 264 V338 M482 264 V338"/>
<path d="M330 338 V288 H386 M560 338 V288 H504"/>
<rect x="318" y="340" width="254" height="28" rx="5"/>
<rect x="323" y="368" width="54" height="50" rx="10"/>
<rect x="513" y="368" width="54" height="50" rx="10"/>
</g>
<g class="is" transform="translate(653.41 278.69) scale(0.07 0.07)" style="stroke-width:14.14">
<path d="M318 337 Q284 245 328 172 Q366 122 428 110 Q445 86 462 110 Q524 122 562 172 Q606 245 572 337"/>
<path d="M345 340 V186 Q345 170 361 170 H529 Q545 170 545 186 V340"/>
<rect x="375" y="182" width="140" height="52" rx="5"/>
<path d="M400 226 L420 196 M440 226 L460 196 M478 226 L498 196"/>
<rect x="386" y="264" width="118" height="74"/>
<path d="M410 264 V338 M434 264 V338 M458 264 V338 M482 264 V338"/>
<path d="M330 338 V288 H386 M560 338 V288 H504"/>
<rect x="318" y="340" width="254" height="28" rx="5"/>
<rect x="323" y="368" width="54" height="50" rx="10"/>
<rect x="513" y="368" width="54" height="50" rx="10"/>
</g>
<g class="ic" transform="translate(753 282) scale(0.12)" style="stroke-width:10.12">
<path d="M158 376 V128 Q158 113 173 113 H295 Q310 113 310 128 V376"/>
<rect x="132" y="376" width="203" height="18" rx="9"/>
<rect x="180" y="140" width="110" height="76" rx="4"/>
<path d="M180 205 H290 M186 229 H284 M262 243 H286"/>
<path d="M233 158 q-12 16 -12 24 a12 12 0 0 0 24 0 q0 -8 -12 -24 z"/>
<rect x="180" y="250" width="65" height="20" rx="10"/>
<rect x="310" y="245" width="14" height="30" rx="3"/>
<path d="M324 262 Q331 262 331 275 V300 Q333 336 363 336 Q396 336 398 300 V205"/>
<path d="M372 152 L388 141 Q410 141 415 160 V190 Q415 205 400 205 H376 Q365 205 365 195 V165 Z M365 180 H380 M387 141 Q387 122 376 112"/>
</g>
<g class="ic" transform="translate(753 158) scale(0.12)" style="stroke-width:10.96">
<path d="M240 240 L212 190 M178 267 L214 258 M272 226 L298 208" style="stroke-width:14"/>
<rect x="85" y="343.5" width="372" height="17" rx="8.5" transform="rotate(-25.9 88 352)" fill="#fff"/>
<circle cx="178" cy="350" r="18" fill="#fff"/>
<circle cx="357" cy="262" r="18" fill="#fff"/>
<circle cx="255" cy="279" r="46" fill="#fff"/>
<path d="M232 276 Q252 278 272 262"/>
</g>
<g class="ic" transform="translate(753 98) scale(0.12)" style="stroke-width:10.12">
<path d="M266 208 V156 L240 134 L213 106 H106 Q93 106 95 116 L98 125 H122 L130 142 H200 L222 164 L238 180 V208"/>
<path d="M250 106 H304 L324 135 L362 166 V208 M331 208 V178 L304 154 L289 127 H262"/>
<path d="M228 210 H280 L292 300 H216 Z M222 245 H286 M219 270 H289"/>
<path d="M318 210 H372 L385 300 H306 Z M313 245 H378 M310 270 H381"/>
<path d="M130 335 V300 H405 V412 H190 M190 362 H405"/>
<rect x="212" y="316" width="25" height="25"/><rect x="255" y="316" width="25" height="25"/>
<rect x="298" y="316" width="25" height="25"/><rect x="341" y="316" width="25" height="25"/>
<path d="M290 412 V376 H330 V412 M310 376 V412"/>
<path d="M95 412 V356 Q95 335 116 335 H190 V412 Z M140 412 V392 Q140 378 155 378 Q170 378 170 392 V412"/>
<path d="M150 296 L160 215 H176 L186 296 M142 215 H194 M146 240 H190 M148 266 H188 M160 215 L186 266 M176 215 L150 266 M152 266 L186 296 M184 266 L150 296"/>
<path d="M170 160 L160 178 H174 L164 196"/>
</g>
<g class="ic" transform="translate(753 341) scale(0.12)" style="stroke-width:8.43">
<ellipse cx="250" cy="368" rx="146" ry="24"/>
<path d="M135 362 V186 H365 V362 Z" fill="#fff"/>
<rect x="128" y="168" width="244" height="18"/>
<path d="M135 150 H282 M135 150 V168 M160 150 V168 M185 150 V168 M210 150 V168 M235 150 V168 M260 150 V168"/>
<path d="M285 168 V128 H365 V168 M278 110 H372 V128 H278 Z M310 168 V146 H336 V168"/>
<path d="M232 186 V362 M135 215 H232 M135 245 H232 M135 275 H232 M135 305 H232 M135 335 H232 M166 186 V335 M200 186 V335"/>
<rect x="248" y="210" width="26" height="28"/><rect x="286" y="210" width="26" height="28"/><rect x="324" y="210" width="26" height="28"/>
<rect x="248" y="248" width="26" height="28"/><rect x="286" y="248" width="26" height="28"/><rect x="324" y="248" width="26" height="28"/>
<path d="M226 297 H372 M232 312 H365 M246 362 V328 H276 V362 M288 362 V328 H318 V362 M330 362 V328 H358 V362"/>
<path d="M150 362 V345 Q166 330 182 345 V362 M190 362 V345 Q205 332 220 345 V362"/>
</g>
<g class="ic" transform="translate(643 395) scale(0.16)" style="stroke-width:8.22">
<rect x="85" y="368" width="330" height="24" rx="3"/>
<rect x="162" y="138" width="173" height="230"/>
<rect x="278" y="118" width="45" height="20" rx="3"/>
<path d="M183 120 V368 M206 120 V368 M183 152 H206 M183 174 H206 M183 196 H206 M183 218 H206 M183 240 H206 M183 262 H206 M183 284 H206 M183 306 H206 M183 328 H206 M183 350 H206"/>
<rect x="145" y="245" width="17" height="40" rx="4"/>
<rect x="335" y="245" width="17" height="40" rx="4"/>
<path d="M145 254 H113 Q100 254 100 267 V368 M145 275 H130 Q122 275 122 283 V368"/>
<path d="M352 254 H384 Q397 254 397 267 V368 M352 275 H367 Q375 275 375 283 V368"/>
<rect x="275" y="325" width="38" height="25" rx="3"/>
</g>
<g class="ic" transform="translate(794 416) scale(0.12)" style="stroke-width:10.12">
<rect x="290" y="180" width="36" height="16" rx="5"/>
<rect x="195" y="195" width="190" height="82" rx="40"/>
<path d="M240 215 H262 M240 228 H262 M240 241 H262 M240 254 H262"/>
<path d="M316 224 q-10 13 -10 20 a10 10 0 0 0 20 0 q0 -7 -10 -20 z"/>
<path d="M186 290 V200 H142 L110 236 V290 M150 212 H174 V242 H126 Z"/>
<path d="M100 292 H390"/>
<circle cx="155" cy="302" r="27" fill="#faf9ee"/><circle cx="155" cy="302" r="11"/>
<circle cx="260" cy="302" r="27" fill="#faf9ee"/><circle cx="260" cy="302" r="11"/>
<circle cx="337" cy="302" r="27" fill="#faf9ee"/><circle cx="337" cy="302" r="11"/>
</g>
<g class="ic" transform="translate(390 82) scale(0.1)" style="stroke-width:11.64"><circle cx="237" cy="232" r="143"/><path d="M160 180 Q182 190 170 212 Q142 226 152 248 Q170 262 152 285 Q170 300 160 330"/><path d="M215 92 Q222 130 255 142 Q292 150 286 182 Q302 204 292 228 Q312 262 338 312"/><path d="M192 290 Q214 312 214 342 L226 372 Q246 352 250 322 Q272 302 262 280"/><path d="M125 194.5 L100.4 159.4 A30 30 0 1 1 149.6 159.4 Z" fill="#fff"/><circle cx="125" cy="142" r="11.4"/><path d="M327 164.5 L302.4 129.4 A30 30 0 1 1 351.6 129.4 Z" fill="#fff"/><circle cx="327" cy="112" r="11.4"/><path d="M252 220.25 L239.7 202.7 A15 15 0 1 1 264.3 202.7 Z" fill="#fff"/><circle cx="252" cy="194" r="5.7"/><path d="M220 283.75 L199.5 254.5 A25 25 0 1 1 240.5 254.5 Z" fill="#fff"/><circle cx="220" cy="240" r="9.5"/></g>
<g transform="translate(836 3) scale(0.12)"><path d="M67 257 A185 185 0 0 1 437 257 Z" fill="#4f7d39"/><path d="M120 229 Q118 128 252 126 Q386 128 386 229 Q340 226 300 210 Q270 199 240 212 Q198 234 120 229 Z" fill="#fff"/><path d="M69 271 A185 185 0 0 0 435 271 Z" fill="#1c4976"/><path d="M70 296 Q170 294 250 324 Q335 352 428 302" fill="none" stroke="#fff" stroke-width="21"/><path d="M180 276 Q270 292 330 300 Q385 304 434 284" fill="none" stroke="#fff" stroke-width="10"/><path d="M120 304 Q200 312 255 330 Q300 342 350 334" fill="none" stroke="#bcd3ea" stroke-width="7"/><path d="M300 284 Q360 292 430 280" fill="none" stroke="#bcd3ea" stroke-width="5"/></g>
</svg>
</body>
</html>
